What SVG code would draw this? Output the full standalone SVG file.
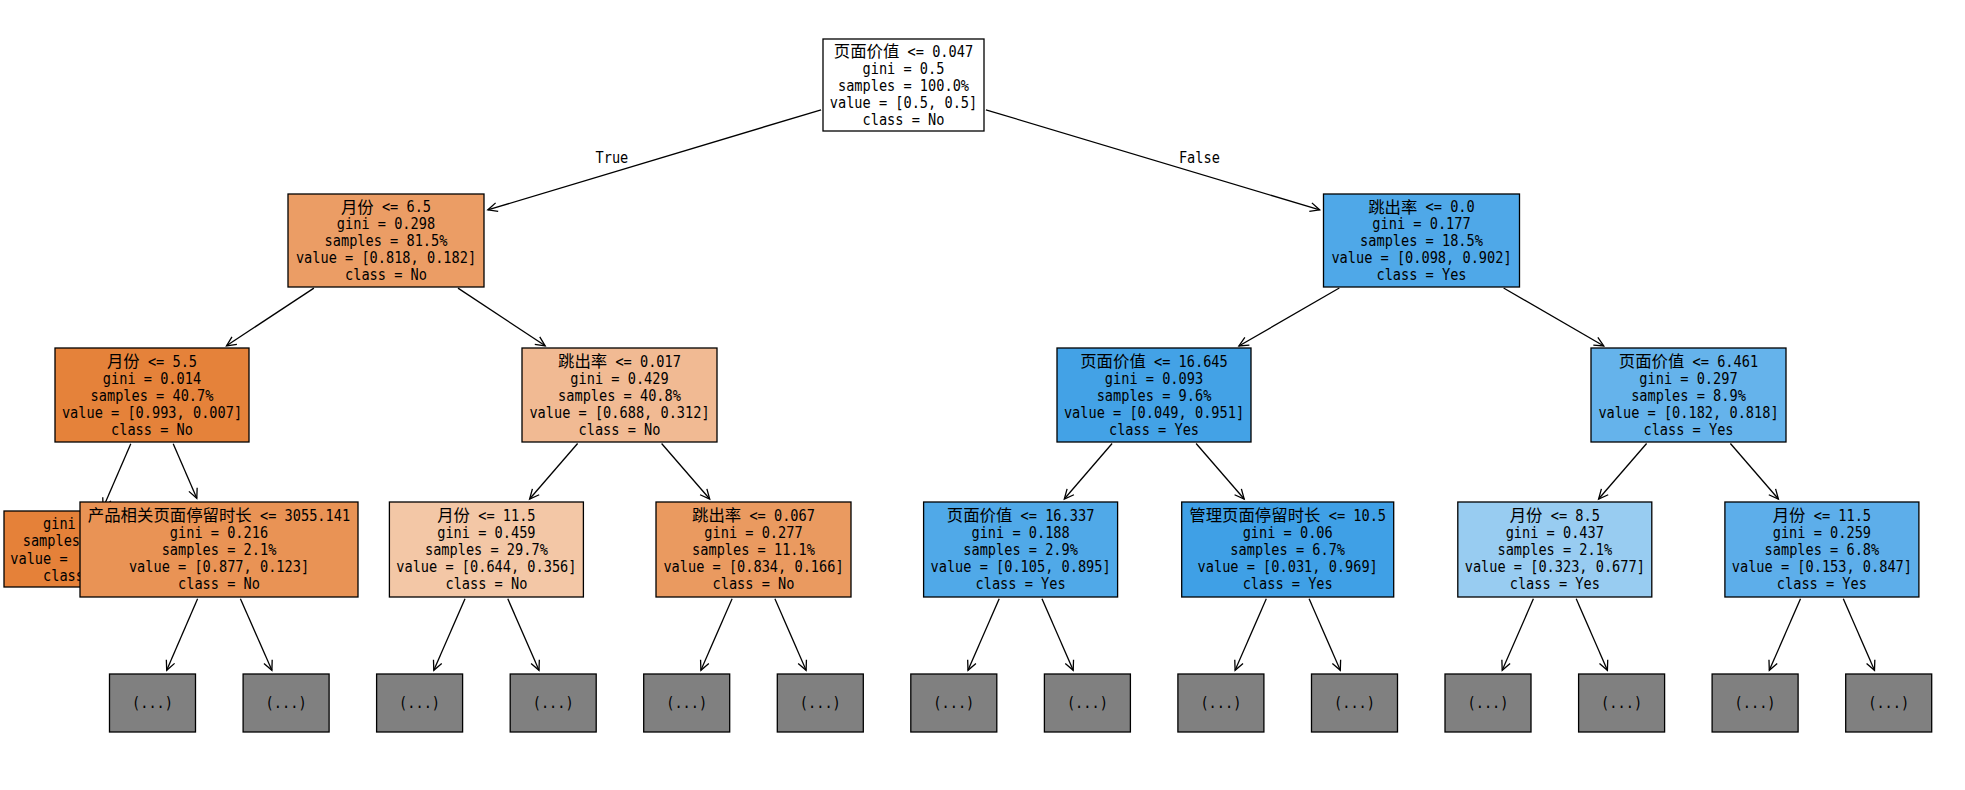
<svg xmlns="http://www.w3.org/2000/svg" width="1965" height="790" viewBox="0 0 1965 790">
<style>
.n rect{stroke:#000;stroke-width:1.3}
text{font-family:"DejaVu Sans Mono","Liberation Mono",monospace;font-size:16.4px;text-anchor:middle;fill:#000}
text.zh{font-family:"Noto Sans CJK SC","Noto Sans CJK TC",sans-serif;font-size:16.4px;text-anchor:start}
.lf{text-anchor:start}
.e line{stroke:#000;stroke-width:1.3;fill:none;marker-end:url(#arr)}
.g rect{fill:#808080;stroke:#000;stroke-width:1.3}
</style>
<defs>
<marker id="arr" markerUnits="userSpaceOnUse" markerWidth="14" markerHeight="12" viewBox="-11 -6 13 12" refX="0" refY="0" orient="auto">
<path d="M-9.5,-4.5 L0,0 L-9.5,4.5" fill="none" stroke="#000" stroke-width="1.3"/>
</marker>
</defs>
<rect width="1965" height="790" fill="#fff"/>
<g id="connectors" class="e">
<line x1="821.1" y1="109.8" x2="487.8" y2="209.9"/>
<line x1="985.9" y1="109.8" x2="1319.7" y2="209.9"/>
<line x1="313.9" y1="288.1" x2="226.5" y2="345.8"/>
<line x1="458" y1="288.1" x2="545.2" y2="345.8"/>
<line x1="1339.3" y1="288" x2="1238.9" y2="346"/>
<line x1="1503.6" y1="288" x2="1603.8" y2="346"/>
<line x1="130.8" y1="443.8" x2="103.1" y2="507.8"/>
<line x1="173.2" y1="443.8" x2="196.8" y2="498.3"/>
<line x1="577.6" y1="443.5" x2="529.6" y2="499"/>
<line x1="661.6" y1="443.5" x2="709.7" y2="499"/>
<line x1="1112.1" y1="443.5" x2="1064.3" y2="499"/>
<line x1="1196.1" y1="443.5" x2="1244.2" y2="499"/>
<line x1="1646.6" y1="443.5" x2="1598.6" y2="499"/>
<line x1="1730.4" y1="443.5" x2="1778.4" y2="499"/>
<line x1="197.6" y1="598.8" x2="166.7" y2="670.3"/>
<line x1="240.4" y1="598.8" x2="271.9" y2="670.3"/>
<line x1="465" y1="598.8" x2="433.8" y2="670.3"/>
<line x1="507.8" y1="598.8" x2="539" y2="670.3"/>
<line x1="732.1" y1="598.8" x2="700.9" y2="670.3"/>
<line x1="774.9" y1="598.8" x2="806.1" y2="670.3"/>
<line x1="999.2" y1="598.8" x2="968" y2="670.3"/>
<line x1="1042" y1="598.8" x2="1073.2" y2="670.3"/>
<line x1="1266.3" y1="598.8" x2="1235.1" y2="670.3"/>
<line x1="1309.1" y1="598.8" x2="1340.3" y2="670.3"/>
<line x1="1533.4" y1="598.8" x2="1502.2" y2="670.3"/>
<line x1="1576.2" y1="598.8" x2="1607.4" y2="670.3"/>
<line x1="1800.5" y1="598.8" x2="1769.3" y2="670.3"/>
<line x1="1843.3" y1="598.8" x2="1874.5" y2="670.3"/>
</g>
<g id="edge-labels" transform="scale(0.83,1)">
<text x="756.99" y="162.7" style="text-anchor:end">True</text>
<text x="1420.36" y="162.7" class="lf">False</text>
</g>
<g id="n0" class="n"><rect x="823" y="39" width="161" height="92" fill="#ffffff"/>
<text class="zh" x="833.82" y="57">页面价值</text>
<g transform="scale(0.83,1)">
<text x="1093.51" y="57" class="lf">&lt;= 0.047</text>
<text x="1088.55" y="74">gini = 0.5</text>
<text x="1088.55" y="91">samples = 100.0%</text>
<text x="1088.55" y="108">value = [0.5, 0.5]</text>
<text x="1088.55" y="125">class = No</text></g></g>
<g id="n1" class="n"><rect x="288" y="194" width="196" height="93" fill="#eb9d65"/>
<text class="zh" x="340.92" y="212.5">月份</text>
<g transform="scale(0.83,1)">
<text x="460.14" y="212.5" class="lf">&lt;= 6.5</text>
<text x="465.06" y="229.5">gini = 0.298</text>
<text x="465.06" y="246.5">samples = 81.5%</text>
<text x="465.06" y="263.5">value = [0.818, 0.182]</text>
<text x="465.06" y="280.5">class = No</text></g></g>
<g id="n2" class="n"><rect x="1323.5" y="194" width="196" height="93" fill="#4fa8e8"/>
<text class="zh" x="1368.22" y="212.5">跳出率</text>
<g transform="scale(0.83,1)">
<text x="1717.61" y="212.5" class="lf">&lt;= 0.0</text>
<text x="1712.65" y="229.5">gini = 0.177</text>
<text x="1712.65" y="246.5">samples = 18.5%</text>
<text x="1712.65" y="263.5">value = [0.098, 0.902]</text>
<text x="1712.65" y="280.5">class = Yes</text></g></g>
<g id="n3" class="n"><rect x="55" y="348" width="194" height="94" fill="#e5823a"/>
<text class="zh" x="106.92" y="367">月份</text>
<g transform="scale(0.83,1)">
<text x="178.21" y="367" class="lf">&lt;= 5.5</text>
<text x="183.13" y="384">gini = 0.014</text>
<text x="183.13" y="401">samples = 40.7%</text>
<text x="183.13" y="418">value = [0.993, 0.007]</text>
<text x="183.13" y="435">class = No</text></g></g>
<g id="n4" class="n"><rect x="522" y="348" width="195" height="94" fill="#f1ba93"/>
<text class="zh" x="558.02" y="367">跳出率</text>
<g transform="scale(0.83,1)">
<text x="741.46" y="367" class="lf">&lt;= 0.017</text>
<text x="746.39" y="384">gini = 0.429</text>
<text x="746.39" y="401">samples = 40.8%</text>
<text x="746.39" y="418">value = [0.688, 0.312]</text>
<text x="746.39" y="435">class = No</text></g></g>
<g id="n5" class="n"><rect x="1057" y="348" width="194" height="94" fill="#43a2e6"/>
<text class="zh" x="1080.22" y="367">页面价值</text>
<g transform="scale(0.83,1)">
<text x="1390.38" y="367" class="lf">&lt;= 16.645</text>
<text x="1390.36" y="384">gini = 0.093</text>
<text x="1390.36" y="401">samples = 9.6%</text>
<text x="1390.36" y="418">value = [0.049, 0.951]</text>
<text x="1390.36" y="435">class = Yes</text></g></g>
<g id="n6" class="n"><rect x="1591" y="348" width="195" height="94" fill="#65b3eb"/>
<text class="zh" x="1618.82" y="367">页面价值</text>
<g transform="scale(0.83,1)">
<text x="2039.3" y="367" class="lf">&lt;= 6.461</text>
<text x="2034.34" y="384">gini = 0.297</text>
<text x="2034.34" y="401">samples = 8.9%</text>
<text x="2034.34" y="418">value = [0.182, 0.818]</text>
<text x="2034.34" y="435">class = Yes</text></g></g>
<g id="n7" class="n"><rect x="4" y="511" width="162" height="76" fill="#e58139"/>
<g transform="scale(0.83,1)">
<text x="51.81" y="529" class="lf">gini</text>
<text x="27.35" y="546.5" class="lf">samples</text>
<text x="12.41" y="564" class="lf">value =</text>
<text x="51.81" y="581" class="lf">class</text></g></g>
<g id="n8" class="n"><rect x="80" y="502" width="278" height="95" fill="#e99355"/>
<text class="zh" x="87.83" y="521">产品相关页面停留时长</text>
<g transform="scale(0.83,1)">
<text x="313.28" y="521" class="lf">&lt;= 3055.141</text>
<text x="263.86" y="538">gini = 0.216</text>
<text x="263.86" y="555">samples = 2.1%</text>
<text x="263.86" y="572">value = [0.877, 0.123]</text>
<text x="263.86" y="589">class = No</text></g></g>
<g id="n9" class="n"><rect x="389.4" y="502" width="194" height="95" fill="#f3c7a6"/>
<text class="zh" x="437.22" y="521">月份</text>
<g transform="scale(0.83,1)">
<text x="576.16" y="521" class="lf">&lt;= 11.5</text>
<text x="586.02" y="538">gini = 0.459</text>
<text x="586.02" y="555">samples = 29.7%</text>
<text x="586.02" y="572">value = [0.644, 0.356]</text>
<text x="586.02" y="589">class = No</text></g></g>
<g id="n10" class="n"><rect x="656" y="502" width="195" height="95" fill="#ea9a60"/>
<text class="zh" x="692.02" y="521">跳出率</text>
<g transform="scale(0.83,1)">
<text x="902.91" y="521" class="lf">&lt;= 0.067</text>
<text x="907.83" y="538">gini = 0.277</text>
<text x="907.83" y="555">samples = 11.1%</text>
<text x="907.83" y="572">value = [0.834, 0.166]</text>
<text x="907.83" y="589">class = No</text></g></g>
<g id="n11" class="n"><rect x="923.6" y="502" width="194" height="95" fill="#50a9e8"/>
<text class="zh" x="946.82" y="521">页面价值</text>
<g transform="scale(0.83,1)">
<text x="1229.66" y="521" class="lf">&lt;= 16.337</text>
<text x="1229.64" y="538">gini = 0.188</text>
<text x="1229.64" y="555">samples = 2.9%</text>
<text x="1229.64" y="572">value = [0.105, 0.895]</text>
<text x="1229.64" y="589">class = Yes</text></g></g>
<g id="n12" class="n"><rect x="1181.7" y="502" width="212" height="95" fill="#3fa0e6"/>
<text class="zh" x="1189.32" y="521">管理页面停留时长</text>
<g transform="scale(0.83,1)">
<text x="1600.86" y="521" class="lf">&lt;= 10.5</text>
<text x="1551.45" y="538">gini = 0.06</text>
<text x="1551.45" y="555">samples = 6.7%</text>
<text x="1551.45" y="572">value = [0.031, 0.969]</text>
<text x="1551.45" y="589">class = Yes</text></g></g>
<g id="n13" class="n"><rect x="1457.8" y="502" width="194" height="95" fill="#98ccf1"/>
<text class="zh" x="1509.72" y="521">月份</text>
<g transform="scale(0.83,1)">
<text x="1868.33" y="521" class="lf">&lt;= 8.5</text>
<text x="1873.25" y="538">gini = 0.437</text>
<text x="1873.25" y="555">samples = 2.1%</text>
<text x="1873.25" y="572">value = [0.323, 0.677]</text>
<text x="1873.25" y="589">class = Yes</text></g></g>
<g id="n14" class="n"><rect x="1724.9" y="502" width="194" height="95" fill="#5daeea"/>
<text class="zh" x="1772.72" y="521">月份</text>
<g transform="scale(0.83,1)">
<text x="2185.2" y="521" class="lf">&lt;= 11.5</text>
<text x="2195.06" y="538">gini = 0.259</text>
<text x="2195.06" y="555">samples = 6.8%</text>
<text x="2195.06" y="572">value = [0.153, 0.847]</text>
<text x="2195.06" y="589">class = Yes</text></g></g>
<g id="t0" class="g"><rect x="109.5" y="674" width="86" height="58"/><text transform="scale(0.83,1)" x="183.73" y="708">(...)</text></g>
<g id="t1" class="g"><rect x="243.1" y="674" width="86" height="58"/><text transform="scale(0.83,1)" x="344.7" y="708">(...)</text></g>
<g id="t2" class="g"><rect x="376.6" y="674" width="86" height="58"/><text transform="scale(0.83,1)" x="505.54" y="708">(...)</text></g>
<g id="t3" class="g"><rect x="510.2" y="674" width="86" height="58"/><text transform="scale(0.83,1)" x="666.51" y="708">(...)</text></g>
<g id="t4" class="g"><rect x="643.7" y="674" width="86" height="58"/><text transform="scale(0.83,1)" x="827.35" y="708">(...)</text></g>
<g id="t5" class="g"><rect x="777.3" y="674" width="86" height="58"/><text transform="scale(0.83,1)" x="988.31" y="708">(...)</text></g>
<g id="t6" class="g"><rect x="910.8" y="674" width="86" height="58"/><text transform="scale(0.83,1)" x="1149.16" y="708">(...)</text></g>
<g id="t7" class="g"><rect x="1044.4" y="674" width="86" height="58"/><text transform="scale(0.83,1)" x="1310.12" y="708">(...)</text></g>
<g id="t8" class="g"><rect x="1177.9" y="674" width="86" height="58"/><text transform="scale(0.83,1)" x="1470.96" y="708">(...)</text></g>
<g id="t9" class="g"><rect x="1311.5" y="674" width="86" height="58"/><text transform="scale(0.83,1)" x="1631.93" y="708">(...)</text></g>
<g id="t10" class="g"><rect x="1445" y="674" width="86" height="58"/><text transform="scale(0.83,1)" x="1792.77" y="708">(...)</text></g>
<g id="t11" class="g"><rect x="1578.6" y="674" width="86" height="58"/><text transform="scale(0.83,1)" x="1953.73" y="708">(...)</text></g>
<g id="t12" class="g"><rect x="1712.1" y="674" width="86" height="58"/><text transform="scale(0.83,1)" x="2114.58" y="708">(...)</text></g>
<g id="t13" class="g"><rect x="1845.7" y="674" width="86" height="58"/><text transform="scale(0.83,1)" x="2275.54" y="708">(...)</text></g>
</svg>
